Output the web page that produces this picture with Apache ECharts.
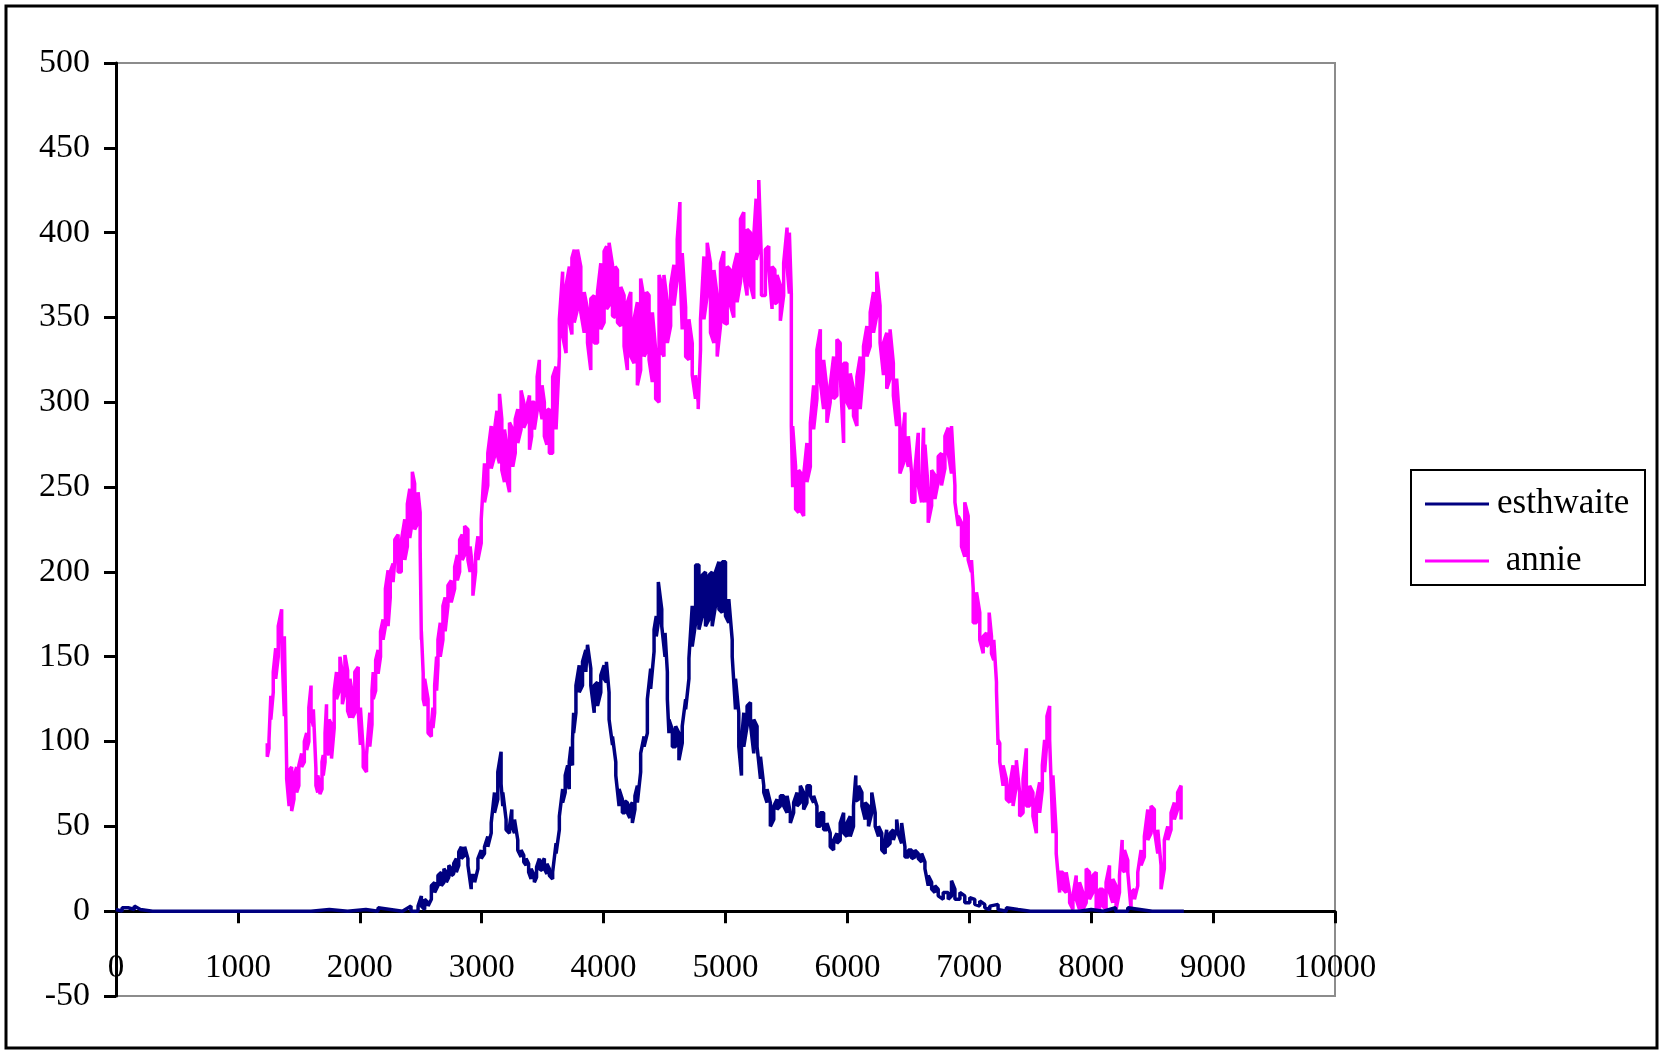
<!DOCTYPE html>
<html>
<head>
<meta charset="utf-8">
<title>esthwaite / annie</title>
<script src="https://cdn.jsdelivr.net/npm/echarts@6/dist/echarts.min.js"></script>
<style>
  html, body { margin: 0; padding: 0; background: #fff; }
  #chart { width: 1663px; height: 1051px; }
</style>
</head>
<body>
<div id="chart"></div>
<script>
// readings: [hour, high, low] at each sample
const seriesNames = ['esthwaite', 'annie'];
const xTicks = [0, 1000, 2000, 3000, 4000, 5000, 6000, 7000, 8000, 9000, 10000];
const yTicks = [-50, 0, 50, 100, 150, 200, 250, 300, 350, 400, 450, 500];

const esthwaite = [
  [0, 1, 0], [50, 2, 0], [100, 2, 1], [150, 3, 1], [200, 1, 0], [300, 0, 0], [600, 0, 0],
  [900, 0, 0], [1200, 0, 0], [1400, 1, 0], [1450, 0, 0], [1600, 1, 0], [1750, 1, 0],
  [1900, 1, 0], [2050, 1, 0], [2150, 2, 0], [2250, 1, 0], [2350, 1, 0], [2420, 3, 0],
  [2478, 3, 0], [2505, 9, 3], [2532, 7, 1], [2560, 5, 3], [2587, 15, 7], [2614, 17, 11],
  [2641, 21, 15], [2669, 23, 15], [2690, 25, 17], [2710, 23, 17], [2730, 27, 20],
  [2751, 25, 21], [2770, 28, 22], [2792, 31, 23], [2812, 35, 27], [2833, 38, 31],
  [2860, 38, 33], [2887, 31, 27], [2914, 21, 13], [2942, 21, 17], [2969, 31, 25],
  [2996, 36, 31], [3023, 38, 34], [3050, 44, 38], [3078, 52, 46], [3105, 70, 58],
  [3132, 82, 66], [3159, 94, 75], [3173, 70, 62], [3200, 54, 48], [3228, 50, 46],
  [3247, 60, 50], [3269, 54, 46], [3296, 42, 36], [3323, 36, 32], [3345, 33, 29],
  [3364, 31, 27], [3385, 28, 23], [3405, 25, 19], [3432, 21, 17], [3450, 26, 20],
  [3473, 31, 25], [3495, 29, 24], [3514, 31, 25], [3535, 28, 22], [3555, 25, 21],
  [3582, 23, 19], [3610, 40, 34], [3637, 56, 48], [3664, 72, 64], [3685, 80, 70],
  [3705, 86, 76], [3718, 88, 72], [3732, 97, 88], [3745, 101, 86], [3754, 117, 105],
  [3773, 133, 117], [3800, 145, 129], [3827, 147, 133], [3854, 154, 141], [3868, 157, 140],
  [3895, 143, 133], [3923, 133, 117], [3950, 135, 121], [3977, 139, 129], [4004, 145, 137],
  [4023, 147, 135], [4045, 129, 113], [4073, 103, 98], [4100, 88, 80], [4127, 72, 62],
  [4154, 66, 58], [4175, 65, 58], [4195, 64, 58], [4215, 62, 55], [4236, 64, 52],
  [4257, 68, 60], [4277, 74, 64], [4304, 93, 82], [4332, 103, 97], [4359, 125, 105],
  [4386, 143, 131], [4414, 166, 153], [4432, 174, 162], [4449, 194, 170], [4477, 178, 168],
  [4504, 164, 150], [4523, 141, 125], [4536, 113, 105], [4564, 107, 97], [4591, 109, 97],
  [4618, 105, 89], [4645, 109, 99], [4673, 125, 119], [4700, 149, 137], [4727, 180, 156],
  [4755, 204, 170], [4782, 204, 166], [4809, 198, 174], [4836, 200, 168], [4864, 198, 172],
  [4891, 200, 168], [4918, 200, 180], [4946, 206, 178], [4973, 206, 176], [5000, 206, 174],
  [5027, 184, 170], [5055, 160, 150], [5082, 137, 119], [5109, 117, 97], [5131, 100, 80],
  [5150, 117, 97], [5177, 121, 109], [5205, 123, 110], [5232, 113, 93], [5259, 109, 97],
  [5287, 91, 78], [5314, 74, 70], [5341, 72, 64], [5368, 64, 50], [5396, 62, 54],
  [5423, 66, 60], [5450, 68, 62], [5477, 68, 62], [5505, 68, 58], [5532, 58, 52],
  [5559, 64, 58], [5587, 70, 62], [5614, 74, 64], [5641, 70, 60], [5668, 74, 64],
  [5696, 74, 68], [5723, 68, 64], [5750, 62, 50], [5778, 58, 50], [5805, 58, 48],
  [5832, 52, 48], [5859, 46, 38], [5887, 42, 36], [5914, 46, 40], [5941, 52, 42],
  [5969, 58, 46], [5996, 52, 44], [6023, 56, 44], [6050, 62, 50], [6069, 80, 65],
  [6092, 74, 66], [6119, 70, 62], [6146, 64, 54], [6173, 62, 50], [6200, 70, 58],
  [6228, 58, 50], [6255, 50, 44], [6282, 46, 36], [6310, 42, 34], [6322, 48, 38],
  [6350, 46, 40], [6377, 48, 42], [6404, 54, 48], [6420, 55, 45], [6445, 52, 40],
  [6472, 38, 32], [6500, 36, 32], [6527, 36, 31], [6554, 36, 32], [6581, 34, 31],
  [6609, 34, 29], [6636, 29, 25], [6663, 21, 15], [6691, 17, 13], [6718, 15, 11],
  [6745, 13, 9], [6786, 11, 7], [6827, 11, 7], [6854, 18, 9], [6882, 13, 7],
  [6923, 11, 7], [6963, 9, 5], [7004, 8, 5], [7045, 7, 4], [7086, 6, 3], [7127, 4, 2],
  [7168, 3, 1], [7236, 4, 1], [7304, 2, 0], [7400, 1, 0], [7500, 1, 0], [7600, 0, 0],
  [7700, 1, 0], [7800, 0, 0], [7900, 1, 0], [8000, 1, 0], [8100, 1, 0], [8200, 2, 0],
  [8300, 2, 0], [8400, 1, 0], [8500, 0, 0], [8600, 0, 0], [8700, 0, 0], [8760, 0, 0]
];

const annie = [
  [1241, 99, 91], [1255, 101, 96], [1270, 127, 113], [1290, 141, 129], [1310, 155, 137],
  [1331, 168, 150], [1359, 178, 160], [1381, 162, 115], [1400, 85, 78], [1420, 83, 62],
  [1441, 85, 59], [1460, 80, 66], [1482, 85, 70], [1500, 86, 74], [1523, 93, 85],
  [1545, 100, 88], [1564, 105, 95], [1582, 120, 100], [1600, 133, 115], [1619, 119, 109],
  [1640, 84, 74], [1655, 80, 70], [1673, 75, 69], [1690, 88, 72], [1700, 92, 80],
  [1715, 105, 88], [1727, 122, 95], [1748, 113, 92], [1768, 110, 90], [1790, 130, 108],
  [1809, 141, 125], [1837, 150, 131], [1857, 140, 122], [1878, 151, 129], [1900, 142, 118],
  [1919, 137, 114], [1940, 128, 114], [1959, 141, 117], [1987, 144, 118], [2005, 120, 98],
  [2028, 95, 85], [2055, 92, 82], [2082, 117, 97], [2100, 130, 110], [2110, 141, 125],
  [2130, 148, 130], [2150, 154, 140], [2170, 165, 150], [2191, 172, 160], [2210, 190, 168],
  [2232, 201, 168], [2250, 200, 185], [2273, 205, 194], [2287, 219, 207], [2314, 222, 200],
  [2340, 218, 200], [2369, 231, 207], [2390, 240, 215], [2410, 249, 220], [2431, 259, 230],
  [2450, 252, 225], [2478, 247, 229], [2495, 235, 215], [2505, 165, 160], [2520, 140, 125],
  [2532, 137, 121], [2560, 125, 105], [2587, 110, 103], [2600, 120, 108], [2614, 133, 117],
  [2630, 150, 130], [2641, 160, 145], [2660, 170, 150], [2682, 180, 160], [2700, 185, 165],
  [2723, 192, 180], [2750, 195, 182], [2778, 203, 190], [2800, 210, 195], [2819, 219, 200],
  [2840, 222, 207], [2860, 227, 210], [2887, 225, 207], [2905, 215, 200], [2928, 200, 186],
  [2950, 210, 200], [2969, 221, 207], [2996, 231, 217], [3023, 264, 241], [3050, 270, 251],
  [3078, 286, 261], [3105, 284, 268], [3125, 295, 270], [3146, 305, 264], [3165, 290, 260],
  [3187, 284, 253], [3205, 275, 255], [3228, 288, 247], [3255, 284, 262], [3275, 290, 270],
  [3296, 296, 276], [3323, 307, 284], [3345, 300, 285], [3364, 296, 288], [3392, 304, 272],
  [3410, 300, 280], [3432, 300, 284], [3455, 315, 295], [3473, 325, 300], [3495, 310, 290],
  [3514, 300, 280], [3535, 295, 275], [3555, 296, 270], [3582, 315, 270], [3610, 321, 284],
  [3637, 349, 327], [3664, 377, 339], [3692, 369, 329], [3719, 380, 347], [3740, 385, 340],
  [3759, 390, 347], [3786, 390, 355], [3813, 380, 353], [3841, 365, 341], [3868, 355, 335],
  [3895, 361, 319], [3923, 363, 335], [3950, 365, 335], [3977, 382, 343], [4004, 389, 347],
  [4025, 392, 355], [4045, 394, 357], [4073, 381, 351], [4095, 380, 350], [4114, 378, 347],
  [4141, 368, 345], [4168, 363, 333], [4195, 359, 319], [4223, 365, 327], [4250, 349, 323],
  [4277, 359, 310], [4304, 373, 319], [4332, 361, 327], [4352, 365, 330], [4373, 363, 325],
  [4400, 353, 312], [4427, 331, 302], [4455, 375, 300], [4475, 370, 330], [4495, 375, 327],
  [4523, 359, 335], [4550, 369, 345], [4577, 381, 357], [4604, 396, 373], [4626, 418, 380],
  [4645, 388, 343], [4673, 356, 327], [4700, 349, 325], [4727, 335, 316], [4754, 316, 302],
  [4776, 300, 296], [4795, 349, 331], [4823, 386, 349], [4850, 394, 363], [4877, 382, 341],
  [4905, 378, 335], [4932, 363, 327], [4959, 382, 345], [4986, 389, 347], [5014, 380, 346],
  [5041, 378, 357], [5068, 380, 350], [5095, 388, 359], [5123, 408, 371], [5150, 412, 375],
  [5177, 402, 363], [5205, 400, 369], [5232, 398, 361], [5251, 420, 384], [5273, 431, 390],
  [5295, 383, 363], [5327, 390, 363], [5355, 392, 378], [5382, 380, 355], [5405, 378, 358],
  [5423, 375, 359], [5450, 369, 348], [5477, 382, 363], [5505, 403, 380], [5524, 400, 364],
  [5540, 364, 286], [5551, 286, 250], [5575, 262, 237], [5600, 260, 235], [5620, 258, 236],
  [5641, 257, 233], [5668, 276, 253], [5696, 288, 262], [5723, 310, 284], [5750, 331, 302],
  [5778, 343, 312], [5805, 325, 296], [5832, 308, 288], [5859, 310, 300], [5887, 327, 302],
  [5914, 337, 304], [5941, 335, 316], [5969, 323, 276], [5996, 323, 300], [6023, 317, 296],
  [6050, 308, 292], [6078, 315, 286], [6105, 327, 296], [6132, 333, 319], [6160, 345, 327],
  [6187, 353, 333], [6214, 365, 341], [6241, 377, 351], [6268, 357, 335], [6296, 335, 316],
  [6323, 341, 308], [6350, 343, 314], [6377, 323, 304], [6404, 314, 286], [6431, 286, 258],
  [6459, 284, 264], [6472, 294, 270], [6500, 280, 262], [6527, 258, 241], [6554, 260, 241],
  [6581, 282, 251], [6609, 255, 241], [6625, 285, 245], [6636, 275, 241], [6663, 249, 229],
  [6691, 260, 239], [6718, 257, 243], [6745, 268, 253], [6772, 270, 251], [6800, 280, 261],
  [6827, 285, 270], [6854, 286, 258], [6882, 251, 241], [6909, 233, 227], [6936, 229, 215],
  [6963, 241, 209], [6991, 233, 207], [7018, 207, 200], [7032, 190, 170], [7059, 188, 170],
  [7086, 176, 160], [7114, 162, 152], [7141, 164, 156], [7163, 176, 158], [7182, 162, 152],
  [7201, 160, 148], [7223, 135, 130], [7236, 101, 98], [7250, 99, 88], [7277, 86, 74],
  [7304, 78, 66], [7332, 74, 64], [7359, 86, 62], [7386, 89, 74], [7413, 70, 56],
  [7441, 78, 58], [7468, 96, 62], [7495, 74, 62], [7522, 70, 56], [7550, 66, 46],
  [7577, 76, 58], [7599, 86, 72], [7618, 101, 82], [7637, 115, 101], [7659, 121, 101],
  [7686, 80, 46], [7713, 46, 34], [7741, 23, 11], [7768, 23, 13], [7795, 23, 11],
  [7823, 11, 5], [7850, 9, 1], [7877, 21, 7], [7904, 17, 1], [7932, 11, 1],
  [7959, 25, 5], [7986, 23, 7], [8014, 21, 11], [8041, 23, 1], [8068, 13, 1],
  [8095, 13, 3], [8122, 17, 1], [8150, 27, 11], [8177, 19, 5], [8204, 15, 1],
  [8232, 21, 11], [8254, 42, 25], [8273, 36, 23], [8300, 30, 23], [8327, 11, 1],
  [8355, 13, 7], [8382, 23, 15], [8409, 36, 27], [8436, 44, 32], [8464, 60, 42],
  [8491, 62, 46], [8518, 60, 48], [8546, 48, 34], [8573, 27, 13], [8600, 42, 25],
  [8628, 50, 42], [8655, 58, 48], [8682, 64, 54], [8709, 70, 60], [8737, 74, 54]
];

// each reading becomes a short vertical stroke (high and low at the same hour)
function toPoints(readings) {
  const pts = [];
  readings.forEach(function (r, i) {
    if (i % 2 === 0) {
      pts.push([r[0], r[1]]);
      pts.push([r[0], r[2]]);
    } else {
      pts.push([r[0], r[2]]);
      pts.push([r[0], r[1]]);
    }
  });
  return pts;
}

const font = '"Liberation Serif", "Times New Roman", serif';

// grid geometry: the x axis sits on y = 0, 50 units above the grid bottom
const gridTop = 63, gridBottom = 55;
const plotH = 1051 - gridTop - gridBottom;
const zeroOffset = plotH * (0 - yTicks[0]) / (yTicks[yTicks.length - 1] - yTicks[0]);

const chart = echarts.init(document.getElementById('chart'));
chart.setOption({
  animation: false,
  backgroundColor: '#fff',
  grid: {
    left: 116, right: 328, top: gridTop, bottom: gridBottom,
    outerBoundsMode: 'none',
    containLabel: false,
    show: true, borderColor: '#8c8c8c', borderWidth: 2
  },
  xAxis: {
    type: 'value',
    min: xTicks[0], max: xTicks[xTicks.length - 1], interval: 1000,
    offset: -zeroOffset,
    axisLine: { show: true, onZero: false, lineStyle: { color: '#000', width: 3 } },
    axisTick: { show: true, length: 12, lineStyle: { color: '#000', width: 3 } },
    axisLabel: {
      margin: 41, color: '#000', fontFamily: font, fontSize: 33,
      formatter: function (v) { return String(v); }
    },
    splitLine: { show: false }
  },
  yAxis: {
    type: 'value',
    min: yTicks[0], max: yTicks[yTicks.length - 1], interval: 50,
    axisLine: { show: true, onZero: false, lineStyle: { color: '#000', width: 3 } },
    axisTick: { show: true, length: 12, lineStyle: { color: '#000', width: 3 } },
    axisLabel: { margin: 26, color: '#000', fontFamily: font, fontSize: 34 },
    splitLine: { show: false }
  },
  legend: {
    left: 1425, top: 484,
    orient: 'vertical',
    padding: 0,
    itemGap: 17,
    itemWidth: 64, itemHeight: 3,
    icon: 'rect',
    data: seriesNames,
    formatter: function (name) { return name === 'annie' ? ' annie' : name; },
    textStyle: { color: '#000', fontFamily: font, fontSize: 35, lineHeight: 40, padding: [0, 0, 0, 3] }
  },
  graphic: [
    { type: 'rect', shape: { x: 1411, y: 470, width: 234, height: 115 },
      style: { fill: 'none', stroke: '#000', lineWidth: 2 }, z: 10 },
    { type: 'rect', shape: { x: 6, y: 6, width: 1651, height: 1042 },
      style: { fill: 'none', stroke: '#000', lineWidth: 3 }, z: 10 }
  ],
  series: [
    {
      name: seriesNames[0], type: 'line', data: toPoints(esthwaite),
      showSymbol: false, color: '#000080',
      lineStyle: { color: '#000080', width: 3.5 }, z: 3
    },
    {
      name: seriesNames[1], type: 'line', data: toPoints(annie),
      showSymbol: false, color: '#ff00ff',
      lineStyle: { color: '#ff00ff', width: 3.5 }, z: 2
    }
  ]
});
</script>
</body>
</html>
